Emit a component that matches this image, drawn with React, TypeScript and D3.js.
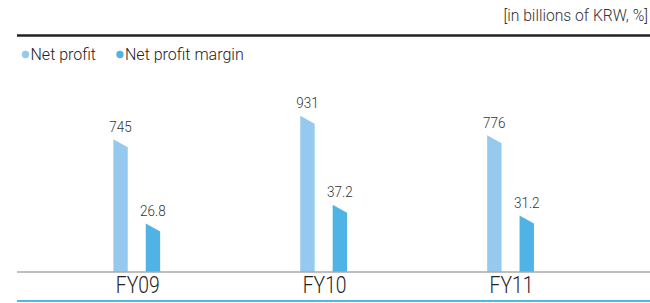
import React from "react";
import * as d3 from "d3";

const categories = ["FY09", "FY10", "FY11"];
const seriesNames = ["Net profit", "Net profit margin"];
const netProfit = [745, 931, 776];
const netProfitMargin = [26.8, 37.2, 31.2];
const profitLabels = ["745", "931", "776"];
const marginLabels = ["26.8", "37.2", "31.2"];
const unitLabel = "[in billions of KRW, %]";

const W = 650;
const H = 303;
const baseY = 272;
const colors = ["#95CAEE", "#50B3E6"];
const FONT = "Roboto, 'DejaVu Sans', sans-serif";

export default function App() {
  const x = d3.scaleBand<string>().domain(categories).range([43.3, 604]).padding(0);
  const inner = d3
    .scaleBand<string>()
    .domain(seriesNames)
    .range([-23.4, 23.4])
    .paddingInner(0.556)
    .paddingOuter(0);
  const yProfit = d3.scaleLinear().domain([-306, 1000]).range([baseY, baseY - 165]);
  const yMargin = d3.scaleLinear().domain([0, 40]).range([baseY, baseY - 72.4]);
  const slant = 8;
  const bw = inner.bandwidth();

  const barPath = (x0: number, yTop: number) =>
    `M${x0},${baseY}L${x0},${yTop}L${x0 + bw},${yTop + slant}L${x0 + bw},${baseY}Z`;

  const bars: { cat: string; s: number; v: number; label: string; y: number }[] = [];
  categories.forEach((c, i) => {
    bars.push({ cat: c, s: 0, v: netProfit[i], label: profitLabels[i], y: yProfit(netProfit[i]) });
    bars.push({ cat: c, s: 1, v: netProfitMargin[i], label: marginLabels[i], y: yMargin(netProfitMargin[i]) });
  });

  return (
    <svg width={W} height={H} style={{ position: "absolute", left: 0, top: 0, display: "block" }}>
      <rect width={W} height={H} fill="#fff" />
      <text x={648} y={21} textAnchor="end" fontFamily={FONT} fontSize={16} fill="#333" fontWeight={300}
        transform={`translate(648,0) scale(0.98,1) translate(-648,0)`}>
        {unitLabel}
      </text>
      <line x1={17} x2={W} y1={35.5} y2={35.5} stroke="#222" strokeWidth={2.5} />
      {seriesNames.map((n, i) => {
        const lx = i === 0 ? 25.5 : 120;
        return (
          <g key={n}>
            <circle cx={lx} cy={54.5} r={3.7} fill={colors[i]} />
            <text x={lx + 5} y={60} fontFamily={FONT} fontSize={16} fill="#222" fontWeight={300}>
              {n}
            </text>
          </g>
        );
      })}
      {bars.map((b, i) => {
        const x0 = (x(b.cat) as number) + x.bandwidth() / 2 + (inner(seriesNames[b.s]) as number);
        const cx = x0 + bw / 2;
        return (
          <g key={i}>
            <path d={barPath(x0, b.y)} fill={colors[b.s]} />
            <text x={cx} y={b.y - 7.5} textAnchor="middle" fontFamily={FONT} fontSize={15} fill="#333" fontWeight={300}
              transform={`translate(${cx},0) scale(0.9,1) translate(${-cx},0)`}>
              {b.label}
            </text>
          </g>
        );
      })}
      <line x1={17} x2={W} y1={baseY} y2={baseY} stroke="#a8a8a8" strokeWidth={1.5} />
      {categories.map((c) => {
        const cx = (x(c) as number) + x.bandwidth() / 2 + 1;
        return (
          <text key={c} x={cx} y={293} textAnchor="middle" fontFamily={FONT} fontSize={23} fill="#222" fontWeight={300}
            transform={`translate(${cx},0) scale(0.84,1) translate(${-cx},0)`}>
            {c}
          </text>
        );
      })}
      <line x1={17} x2={W} y1={301} y2={301} stroke="#4DB6EA" strokeWidth={2} />
    </svg>
  );
}
